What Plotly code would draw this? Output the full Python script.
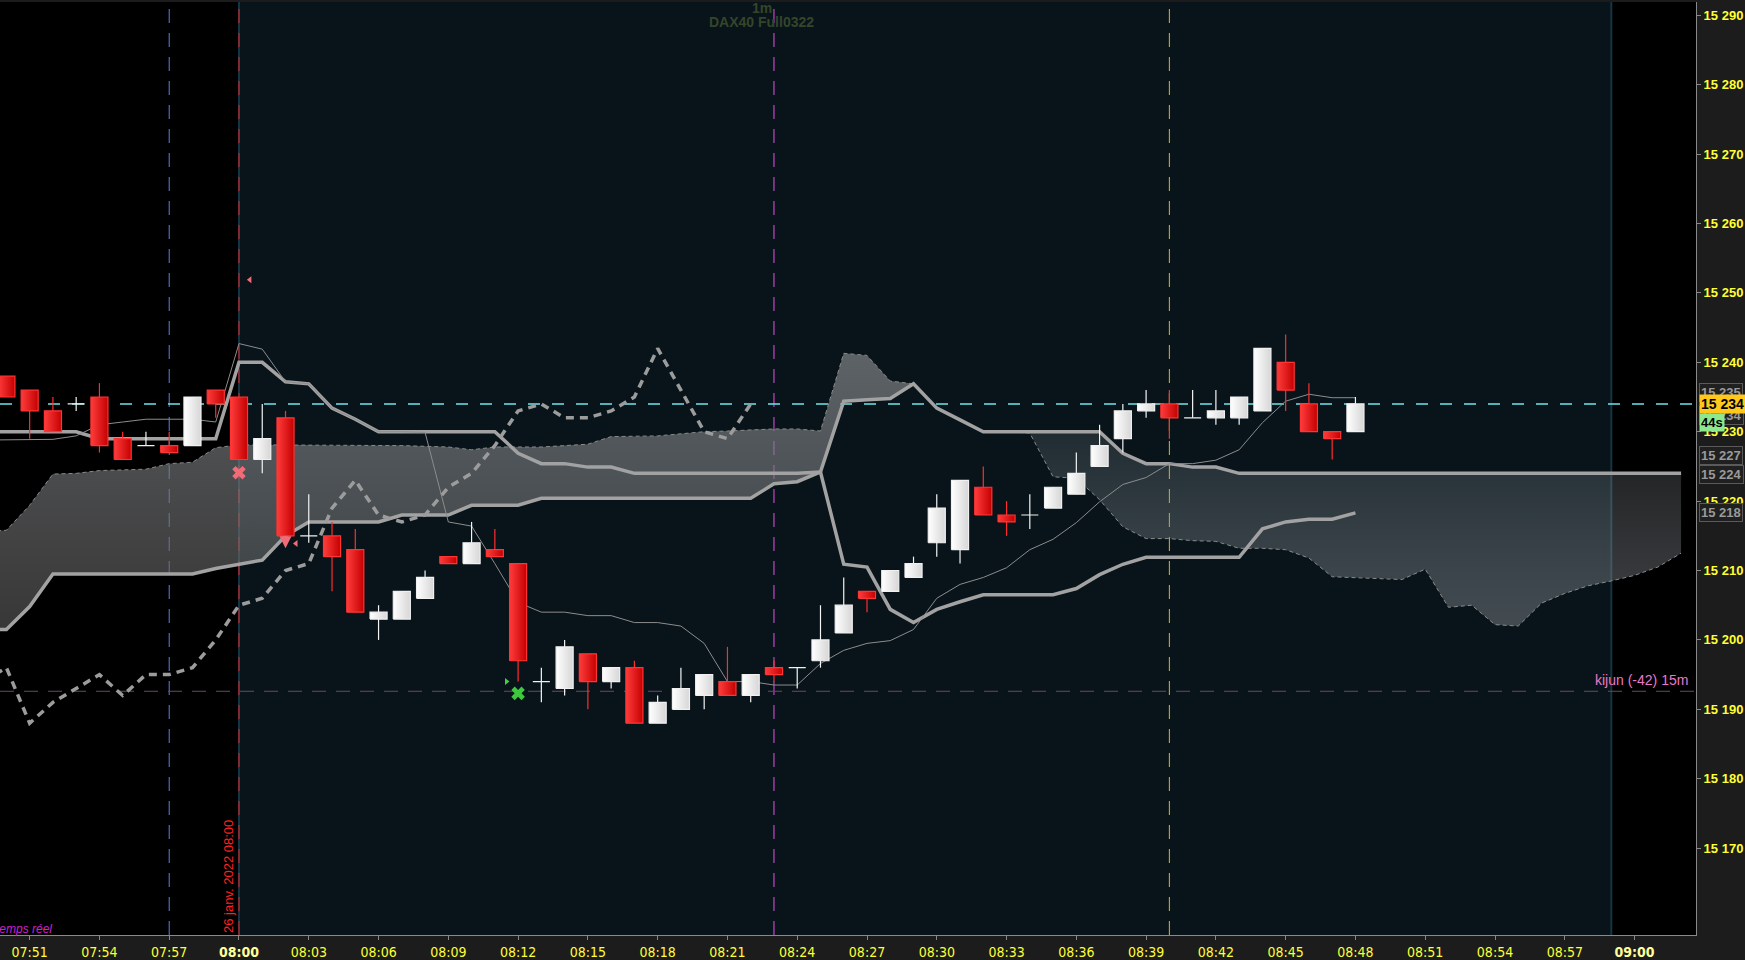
import pandas as pd
import plotly.graph_objects as go

DAY = '2022-01-26 '


def ts(hm):
    """'HH:MM' or 'HH:MM:SS' -> full timestamp string on the chart's day."""
    return DAY + hm


def minutes(start, end):
    return [t.strftime('%H:%M') for t in pd.date_range(ts(start), ts(end), freq='min')]


# ---- candles (1 minute, 07:50 -> 08:48) ----
candle_times = minutes('07:50', '08:48')
opens = [15238, 15236, 15233, 15234, 15235, 15229, 15228, 15228, 15228, 15236,
         15235, 15226, 15232, 15215, 15215, 15213, 15203, 15203, 15206, 15212,
         15211, 15213, 15211, 15194, 15193, 15198, 15194, 15196, 15188, 15190,
         15192, 15194, 15192, 15196, 15196, 15197, 15201, 15207, 15207, 15209,
         15214, 15213, 15222, 15218, 15218, 15219, 15221, 15225, 15229, 15233,
         15234, 15232, 15232, 15232, 15233, 15240, 15234, 15230, 15230]
highs = [15238, 15236, 15235, 15235, 15237, 15230, 15230, 15230, 15235, 15236,
         15235, 15234, 15233, 15221, 15217, 15216, 15205, 15207, 15210, 15212,
         15217, 15216, 15211, 15196, 15200, 15198, 15196, 15197, 15192, 15196,
         15195, 15199, 15195, 15197, 15196, 15205, 15209, 15207, 15210, 15212,
         15221, 15223, 15225, 15220, 15221, 15222, 15227, 15231, 15234, 15236,
         15236, 15236, 15236, 15235, 15242, 15244, 15237, 15230, 15235]
lows = [15235, 15229, 15230, 15233, 15227, 15226, 15228, 15227, 15228, 15232,
        15226, 15224, 15215, 15214, 15207, 15204, 15200, 15203, 15206, 15211,
        15211, 15212, 15194, 15191, 15192, 15190, 15193, 15188, 15188, 15190,
        15190, 15192, 15191, 15194, 15193, 15196, 15201, 15204, 15207, 15209,
        15212, 15211, 15218, 15215, 15216, 15219, 15221, 15225, 15227, 15232,
        15229, 15232, 15231, 15231, 15233, 15233, 15230, 15226, 15230]
closes = [15235, 15233, 15230, 15234, 15228, 15226, 15228, 15227, 15235, 15234,
          15226, 15229, 15215, 15215, 15212, 15204, 15204, 15207, 15209, 15211,
          15214, 15212, 15197, 15194, 15199, 15194, 15196, 15188, 15191, 15193,
          15195, 15192, 15195, 15195, 15196, 15200, 15205, 15206, 15210, 15211,
          15219, 15223, 15218, 15217, 15218, 15222, 15224, 15228, 15233, 15234,
          15232, 15232, 15233, 15235, 15242, 15236, 15230, 15229, 15234]

# ---- indicator lines (07:49 -> 08:48) ----
line_times = minutes('07:49', '08:48')
tenkan = [15228.8, 15228.8, 15228.8, 15228.9, 15229.4, 15231.0, 15231.4, 15231.8, 15231.8, 15231.8, 15231.4,
          15242.7, 15241.9, 15237.2, 15236.9, 15233.4, 15231.8, 15230.0, 15230.0, 15229.9, 15217.0,
          15216.4, 15211.0, 15205.4, 15204.0, 15204.0, 15203.5, 15203.5, 15202.5, 15202.5, 15202.0,
          15199.5, 15194.0, 15194.0, 15193.5, 15193.5, 15196.6, 15198.5, 15199.5, 15199.9, 15201.5,
          15206.0, 15208.0, 15209.0, 15210.4, 15213.0, 15214.5, 15216.9, 15219.9, 15222.4, 15223.4,
          15225.4, 15225.4, 15225.9, 15227.4, 15231.3, 15234.4, 15235.4, 15234.9, 15234.9]
kijun = [15230, 15230, 15230, 15230, 15230, 15229, 15229, 15229, 15229, 15229, 15229,
         15240, 15240, 15237.2, 15236.9, 15233.4, 15231.8, 15230, 15230, 15230, 15230,
         15230, 15230, 15226.9, 15225.4, 15225.4, 15224.9, 15224.9, 15224, 15224, 15224,
         15224, 15224, 15224, 15224, 15224, 15224.2, 15210.9, 15210.5, 15204.4, 15202.5,
         15204.4, 15205.5, 15206.5, 15206.5, 15206.5, 15206.5, 15207.4, 15209.4, 15210.9, 15211.9,
         15211.9, 15211.9, 15211.9, 15211.9, 15216, 15217, 15217.4, 15217.4, 15218.3]

# ---- cloud spans (07:49 -> 09:02) ----
span_times = minutes('07:49', '09:02')
senkou_a = [15201.5, 15201.5, 15204.8, 15209.5, 15209.5, 15209.5, 15209.5, 15209.5, 15209.5, 15209.5, 15210.3,
            15210.9, 15211.5, 15215.0, 15217.0, 15217.0, 15217.0, 15217.0, 15218.0, 15218.0, 15218.0,
            15219.4, 15219.4, 15219.4, 15220.4, 15220.4, 15220.4, 15220.4, 15220.4, 15220.4, 15220.4,
            15220.4, 15220.4, 15220.4, 15222.5, 15222.8, 15224.2, 15234.4, 15234.6, 15234.8, 15236.9,
            15233.4, 15231.7, 15230.0, 15230.0, 15230.0, 15230.0, 15230.0, 15230.0, 15226.9, 15225.4,
            15225.4, 15224.9, 15224.9, 15224.0, 15224.0, 15224.0, 15224.0, 15224.0, 15224.0, 15224.0,
            15224.0, 15224.0, 15224.0, 15224.0, 15224.0, 15224.0, 15224.0, 15224.0, 15224.0, 15224.0,
            15224.0, 15224.0, 15224.0]
senkou_b = [15215.6, 15215.8, 15219.4, 15223.9, 15224.0, 15224.4, 15224.5, 15224.6, 15225.4, 15225.6, 15227.7,
            15228.1, 15228.1, 15228.1, 15228.1, 15228.0, 15228.0, 15228.0, 15228.0, 15227.9, 15227.8,
            15227.4, 15227.8, 15227.8, 15227.8, 15228.0, 15228.2, 15229.3, 15229.3, 15229.4, 15229.7,
            15230.0, 15230.1, 15230.3, 15230.4, 15230.4, 15230.1, 15241.3, 15241.0, 15237.3, 15236.9,
            15233.4, 15231.7, 15230.0, 15230.0, 15229.8, 15223.5, 15223.3, 15220.2, 15216.3, 15214.6,
            15214.6, 15214.3, 15214.2, 15213.2, 15213.2, 15213.0, 15211.8, 15209.1, 15209.0, 15208.9,
            15208.7, 15210.2, 15204.7, 15205.0, 15202.2, 15202.0, 15205.3, 15206.7, 15207.8, 15208.5,
            15209.3, 15210.5, 15212.5]

# chikou: closes drawn 26 bars back (07:49 -> 08:22)
chikou_times = line_times[:34]
chikou = closes[25:]

# ---- levels, separators, signals ----
last_price = 15234
kijun_15m = 15192.6
separator_times = ['07:57', '08:00', '08:23', '08:40']
session_start, session_end = '08:00', '08:59'
sell_x, sell_y = ['08:00'], [15224.1]
arrow_x, arrow_y = ['08:02'], [15213.2]
red_flag_x, red_flag_y = ['08:00:28', '08:02:27'], [15251.9, 15213.9]
green_flag_x, green_flag_y = ['08:11:30'], [15194.0]
buy_x, buy_y = ['08:12'], [15192.3]
side_labels = [(15235.7, '15 235'), (15232.3, '15 234'), (15226.6, '15 227'),
               (15223.9, '15 224'), (15218.4, '15 218')]

price_ticks = list(range(15170, 15300, 10))
time_ticks = ['07:51', '07:54', '07:57', '08:00', '08:03', '08:06', '08:09', '08:12', '08:15',
              '08:18', '08:21', '08:24', '08:27', '08:30', '08:33', '08:36', '08:39', '08:42',
              '08:45', '08:48', '08:51', '08:54', '08:57', '09:00']


def fmt_price(p):
    return f'{int(p) // 1000} {int(p) % 1000:03d}'


fig = go.Figure()

# clouds: lighter one where span B is above span A, darker one where A is above B
c1 = slice(0, 41)
c2 = slice(44, None)
fig.add_trace(go.Scatter(
    x=[ts(t) for t in span_times[c1]] + [ts(t) for t in span_times[c1]][::-1],
    y=senkou_b[c1] + senkou_a[c1][::-1],
    fill='toself', mode='none', hoverinfo='skip',
    fillgradient=dict(type='vertical',
                      colorscale=[[0, 'rgba(92,92,92,0.6)'], [1, 'rgba(140,143,146,0.64)']])
))
fig.add_trace(go.Scatter(
    x=[ts(t) for t in span_times[c2]] + [ts(t) for t in span_times[c2]][::-1],
    y=senkou_a[c2] + senkou_b[c2][::-1],
    fill='toself', mode='none', hoverinfo='skip',
    fillgradient=dict(type='vertical',
                      colorscale=[[0, 'rgba(125,130,135,0.5)'], [1, 'rgba(150,160,165,0.17)']])
))

# span B: thin dotted edge of the cloud
fig.add_trace(go.Scatter(x=[ts(t) for t in span_times], y=senkou_b, mode='lines',
                         line=dict(color='#8a8a8a', width=1, dash='4px,3px'), hoverinfo='skip'))
# span A and kijun: thick grey
fig.add_trace(go.Scatter(x=[ts(t) for t in span_times], y=senkou_a, mode='lines',
                         line=dict(color='#a2a2a2', width=3.5), hoverinfo='skip'))
fig.add_trace(go.Scatter(x=[ts(t) for t in line_times], y=kijun, mode='lines',
                         line=dict(color='#a2a2a2', width=3.5), hoverinfo='skip'))
# tenkan: thin grey
fig.add_trace(go.Scatter(x=[ts(t) for t in line_times], y=tenkan, mode='lines',
                         line=dict(color='#8c8c8c', width=1), hoverinfo='skip'))
# chikou: thick dashed grey
fig.add_trace(go.Scatter(x=[ts(t) for t in chikou_times], y=chikou, mode='lines',
                         line=dict(color='#9c9c9c', width=3.5, dash='8px,6px'), hoverinfo='skip'))

# candles: wicks first, then a body per bar with a left-to-right shading
half = pd.Timedelta(seconds=22)
is_up = [c >= o for o, c in zip(opens, closes)]
for up_side, col in [(True, '#f4f4f4'), (False, '#ff2e2e')]:
    wx, wy = [], []
    for i, t in enumerate(candle_times):
        if is_up[i] == up_side:
            wx += [ts(t), ts(t), None]
            wy += [lows[i], highs[i], None]
    fig.add_trace(go.Scatter(x=wx, y=wy, mode='lines', line=dict(color=col, width=1.2), hoverinfo='skip'))

for i, t in enumerate(candle_times):
    mid = pd.Timestamp(ts(t))
    left, right = mid - half, mid + half
    lo, hi = min(opens[i], closes[i]), max(opens[i], closes[i])
    if is_up[i]:
        edge, shade = '#f0f0f0', [[0, '#ffffff'], [1, '#d6d6d6']]
    else:
        edge, shade = '#ff3434', [[0, '#ff3c3c'], [1, '#c40000']]
    fig.add_trace(go.Scatter(
        x=[left, right, right, left, left], y=[lo, lo, hi, hi, lo],
        mode='lines', fill='toself', line=dict(color=edge, width=1.2), hoverinfo='skip',
        fillgradient=dict(type='horizontal', colorscale=shade)
    ))

# signals
fig.add_trace(go.Scatter(x=[ts(t) for t in sell_x], y=sell_y, mode='markers',
                         marker=dict(symbol='x', size=12, color='#f26b76')))
fig.add_trace(go.Scatter(x=[ts(t) for t in arrow_x], y=arrow_y, mode='markers',
                         marker=dict(symbol='arrow-down', size=12, color='#f26b76', line=dict(width=0))))
fig.add_trace(go.Scatter(x=[ts(t) for t in red_flag_x], y=red_flag_y, mode='markers',
                         marker=dict(symbol='triangle-left', size=6, color='#f26b76')))
fig.add_trace(go.Scatter(x=[ts(t) for t in green_flag_x], y=green_flag_y, mode='markers',
                         marker=dict(symbol='triangle-right', size=6, color='#3fd23f')))
fig.add_trace(go.Scatter(x=[ts(t) for t in buy_x], y=buy_y, mode='markers',
                         marker=dict(symbol='x', size=12, color='#3fc83f')))

# background: session from 08:00 to 08:59 in dark navy
fig.add_shape(type='rect', xref='x', yref='paper', x0=ts(session_start), x1=ts(session_end),
              y0=0, y1=1, fillcolor='#08141a', line_width=0, layer='below')
for t in [session_start, session_end]:
    fig.add_shape(type='line', xref='x', yref='paper', x0=ts(t), x1=ts(t), y0=0, y1=1,
                  line=dict(color='#173444', width=2), layer='below')
sep_colors = ['#5a7fe6', '#e02424', '#e64de6', '#e6b422']
for t, col in zip(separator_times, sep_colors):
    fig.add_shape(type='line', xref='x', yref='paper', x0=ts(t), x1=ts(t), y0=0, y1=1,
                  line=dict(color=col, width=1, dash='14px,10px'), layer='below')

fig.add_hline(y=last_price, line=dict(color='#6fe3ec', width=1.5, dash='12px,12px'), layer='below')
fig.add_hline(y=kijun_15m, line=dict(color='#6a4a66', width=1.2, dash='14px,10px'), layer='below')

annotations = [
    dict(text='kijun (-42) 15m', xref='paper', x=1, xanchor='right', xshift=-6, yref='y', y=kijun_15m,
         yanchor='bottom', yshift=1, showarrow=False,
         font=dict(color='#ea78c8', size=14, family='Liberation Sans')),
    dict(text='<b>1m</b>', xref='paper', x=0.449, yref='paper', y=0.9935, yanchor='middle', showarrow=False,
         font=dict(color='#35452a', size=14, family='Liberation Sans')),
    dict(text='<b>DAX40 Full0322</b>', xref='paper', x=0.449, yref='paper', y=0.979, yanchor='middle',
         showarrow=False, font=dict(color='#35452a', size=14, family='Liberation Sans')),
    dict(text='26 janv. 2022 08:00', textangle=-90, xref='x', x=ts('08:00'), xanchor='right', xshift=-1,
         yref='paper', y=0, yanchor='bottom', showarrow=False,
         font=dict(color='#ff2020', size=13, family='Liberation Sans')),
    dict(text='<i>temps réel</i>', xref='paper', x=0, xanchor='left', xshift=-6, yref='paper', y=0,
         yanchor='bottom', yshift=-3, showarrow=False,
         font=dict(color='#d01fd0', size=12, family='Liberation Sans')),
]
for val, txt in side_labels:
    annotations.append(dict(text=f'<b>{txt}</b>', xref='paper', x=1, xanchor='left', xshift=3, yref='y', y=val,
                            showarrow=False, bgcolor='#202020', bordercolor='#5a5a5a', borderwidth=1,
                            borderpad=1, font=dict(color='#9a9a9a', size=13, family='Liberation Sans')))
annotations.append(dict(text=f'<b>{fmt_price(last_price)}</b>', xref='paper', x=1, xanchor='left', xshift=3,
                        yref='y', y=last_price, showarrow=False, bgcolor='#ffc81a', borderpad=1,
                        font=dict(color='#000000', size=14, family='Liberation Sans')))
annotations.append(dict(text='<b>44s</b>', xref='paper', x=1, xanchor='left', xshift=3, yref='y', y=last_price,
                        yshift=-19, showarrow=False, bgcolor='#8ee88e', borderpad=1,
                        font=dict(color='#000000', size=13, family='Liberation Sans')))

time_text = []
for t in time_ticks:
    if t.endswith(':00'):
        time_text.append(f'<b><span style="color:#ffff9a">{t}</span></b>')
    else:
        time_text.append(t)

fig.update_layout(
    width=1745, height=960,
    margin=dict(l=0, r=49, t=2, b=25, autoexpand=False),
    paper_bgcolor='#1c1c1c', plot_bgcolor='#000000',
    showlegend=False, hovermode=False,
    annotations=annotations,
    xaxis=dict(
        type='date', range=[ts('07:49:43.5'), ts('09:02:38.5')],
        showgrid=False, zeroline=False,
        tickvals=[ts(t) for t in time_ticks], ticktext=time_text,
        ticks='outside', ticklen=4, tickcolor='#888888',
        showline=True, linecolor='#8a8a8a', linewidth=1,
        tickfont=dict(color='#ffff33', size=14, family='Liberation Sans Narrow, DejaVu Sans Condensed'),
    ),
    yaxis=dict(
        side='right', range=[15157.48, 15291.92], showgrid=False, zeroline=False,
        tickvals=price_ticks, ticktext=[f'<b>{fmt_price(p)}</b>' for p in price_ticks],
        ticks='outside', ticklen=4, tickcolor='#888888',
        showline=True, linecolor='#8a8a8a', linewidth=1,
        tickfont=dict(color='#ffff33', size=13, family='Liberation Sans'),
    ),
)

# the page's default body margin would shift the 1745x960 figure; remove it
fig.write_html('out.html', config={'displayModeBar': False},
               post_script="document.body.style.margin='0px';")
